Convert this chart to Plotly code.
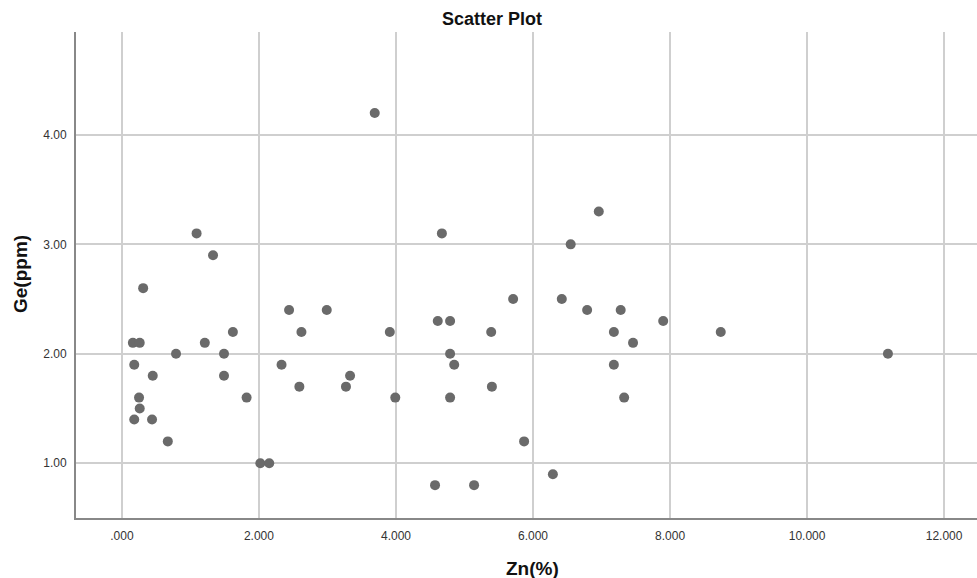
import plotly.graph_objects as go

zn = [0.16, 0.26, 0.18, 0.31, 0.25, 0.26, 0.18, 0.45, 0.44, 0.67, 0.79,
      1.09, 1.21, 1.33, 1.49, 1.49, 1.62, 1.82, 2.02, 2.15, 2.33, 2.44,
      2.59, 2.62, 2.99, 3.27, 3.33, 3.69, 3.91, 3.99, 4.57, 4.61, 4.67,
      4.79, 4.79, 4.79, 4.85, 5.14, 5.39, 5.40, 5.71, 5.87, 6.29, 6.42,
      6.55, 6.96, 6.79, 7.18, 7.18, 7.28, 7.33, 7.46, 7.90, 8.74, 11.18]
ge = [2.1, 2.1, 1.9, 2.6, 1.6, 1.5, 1.4, 1.8, 1.4, 1.2, 2.0,
      3.1, 2.1, 2.9, 2.0, 1.8, 2.2, 1.6, 1.0, 1.0, 1.9, 2.4,
      1.7, 2.2, 2.4, 1.7, 1.8, 4.2, 2.2, 1.6, 0.8, 2.3, 3.1,
      2.3, 2.0, 1.6, 1.9, 0.8, 2.2, 1.7, 2.5, 1.2, 0.9, 2.5,
      3.0, 3.3, 2.4, 2.2, 1.9, 2.4, 1.6, 2.1, 2.3, 2.2, 2.0]

x_ticks = [0, 2, 4, 6, 8, 10, 12]
x_ticktext = [".000", "2.000", "4.000", "6.000", "8.000", "10.000", "12.000"]
y_ticks = [1, 2, 3, 4]
y_ticktext = ["1.00", "2.00", "3.00", "4.00"]

FONT = "Liberation Sans, Arial, sans-serif"

fig = go.Figure()
fig.add_trace(go.Scatter(
    x=zn, y=ge, mode="markers",
    marker=dict(size=10, color="#6a6a6a", line=dict(width=0)),
    showlegend=False, hoverinfo="x+y"))

fig.update_layout(
    width=977, height=578,
    margin=dict(l=76, r=0, t=32, b=60),
    paper_bgcolor="white", plot_bgcolor="white",
    font=dict(family=FONT, color="#222222"),
    xaxis=dict(range=[-0.67, 12.48], tickvals=x_ticks, ticktext=x_ticktext,
               showgrid=True, gridcolor="#cfcfcf", gridwidth=1.5,
               zeroline=False, showline=True, linecolor="#888888", linewidth=2,
               ticks="outside", ticklen=6, tickcolor="rgba(0,0,0,0)",
               tickfont=dict(size=12, color="#333333")),
    yaxis=dict(range=[0.5, 4.94], tickvals=y_ticks, ticktext=y_ticktext,
               showgrid=True, gridcolor="#cfcfcf", gridwidth=1.5,
               zeroline=False, showline=True, linecolor="#888888", linewidth=2,
               ticks="outside", ticklen=5, tickcolor="rgba(0,0,0,0)",
               tickfont=dict(size=12, color="#333333")),
    annotations=[
        dict(text="<b>Scatter Plot</b>", xref="paper", yref="paper",
             x=(492 - 76) / 901, y=1 + (32 - 19) / 486, xanchor="center", yanchor="middle",
             showarrow=False, font=dict(size=18, family=FONT, color="#111111")),
        dict(text="<b>Zn(%)</b>", xref="paper", yref="paper",
             x=(532 - 76) / 901, y=-(568 - 518) / 486, xanchor="center", yanchor="middle",
             showarrow=False, font=dict(size=19, family=FONT, color="#111111")),
        dict(text="<b>Ge(ppm)</b>", xref="paper", yref="paper", textangle=-90,
             x=-(76 - 20) / 901, y=(518 - 274) / 486, xanchor="center", yanchor="middle",
             showarrow=False, font=dict(size=19, family=FONT, color="#111111")),
    ],
)

fig.write_html("out.html")
